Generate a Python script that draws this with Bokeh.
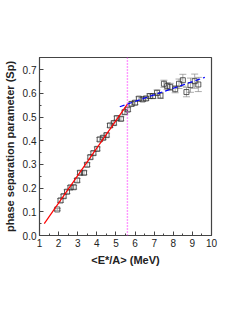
from bokeh.plotting import figure
from bokeh.models import Range1d, Whisker, ColumnDataSource, TeeHead, FixedTicker, Span, CustomJSTickFormatter
from bokeh.embed import file_html
from bokeh.resources import INLINE

energy = [1.93, 2.10, 2.26, 2.44, 2.62, 2.79, 2.97, 3.12, 3.33, 3.49, 3.66, 3.82, 4.02,
          4.15, 4.33, 4.51, 4.69, 4.89, 5.05, 5.26, 5.46, 5.62, 5.82, 6.00, 6.20, 6.40,
          6.57, 6.77, 6.94, 7.15, 7.33, 7.51, 7.68, 7.84, 8.10, 8.30, 8.50, 8.69, 8.90,
          9.12, 9.31]
sp = [0.110, 0.148, 0.166, 0.185, 0.203, 0.204, 0.233, 0.265, 0.265, 0.299, 0.331, 0.348,
      0.366, 0.406, 0.413, 0.424, 0.465, 0.475, 0.496, 0.493, 0.521, 0.532, 0.556, 0.561,
      0.578, 0.575, 0.579, 0.589, 0.589, 0.603, 0.591, 0.641, 0.631, 0.628, 0.618, 0.641,
      0.656, 0.606, 0.635, 0.652, 0.638]
sp_err = [0.004, 0.008, 0.008, 0.008, 0.008, 0.008, 0.008, 0.008, 0.008, 0.008, 0.008,
          0.008, 0.008, 0.008, 0.008, 0.008, 0.008, 0.008, 0.008, 0.008, 0.008, 0.008,
          0.008, 0.008, 0.008, 0.008, 0.008, 0.010, 0.010, 0.012, 0.012, 0.015, 0.015,
          0.015, 0.015, 0.020, 0.025, 0.020, 0.030, 0.030, 0.030]

red_fit_x = [1.25, 5.6]
red_fit_y = [0.050, 0.555]
blue_fit_x = [5.2, 9.65]
blue_fit_y = [0.544, 0.668]
transition_e = 5.6

x_ticks = [1, 2, 3, 4, 5, 6, 7, 8, 9, 10]
y_ticks = [0.0, 0.1, 0.2, 0.3, 0.4, 0.5, 0.6, 0.7]

p = figure(width=227, height=290, output_backend="svg", toolbar_location=None,
           x_range=Range1d(1, 10), y_range=Range1d(0, 0.752),
           min_border_left=28, min_border_right=16, min_border_top=57, min_border_bottom=55)
p.grid.visible = False
p.outline_line_color = "#444444"
p.outline_line_width = 1.2
p.background_fill_color = "white"
p.border_fill_color = "white"

for ax in (p.xaxis[0], p.yaxis[0]):
    ax.major_tick_in = 4
    ax.major_tick_out = 0
    ax.minor_tick_in = 2
    ax.minor_tick_out = 0
    ax.axis_line_color = "#444444"
    ax.major_tick_line_color = "#444444"
    ax.minor_tick_line_color = "#444444"
    ax.major_label_text_font = "Liberation Sans"
    ax.major_label_text_font_size = "10px"
    ax.major_label_text_color = "#222222"
    ax.axis_label_text_font = "Liberation Sans"
    ax.axis_label_text_font_size = "11px"
    ax.axis_label_text_font_style = "bold"
    ax.axis_label_text_color = "#222222"

p.xaxis.ticker = FixedTicker(ticks=x_ticks, minor_ticks=[v + 0.5 for v in x_ticks[:-1]])
p.yaxis.ticker = FixedTicker(ticks=y_ticks, minor_ticks=[v + 0.05 for v in y_ticks])
p.yaxis.formatter = CustomJSTickFormatter(code="return tick.toFixed(1);")
p.xaxis.axis_label = "<E*/A> (MeV)"
p.yaxis.axis_label = "phase separation parameter (Sp)"
p.xaxis.major_label_standoff = 3
p.yaxis.major_label_standoff = 3
p.xaxis.axis_label_standoff = 4
p.yaxis.axis_label_standoff = 4

src = ColumnDataSource(data=dict(
    x=energy, y=sp,
    lo=[a - b for a, b in zip(sp, sp_err)],
    hi=[a + b for a, b in zip(sp, sp_err)]))

p.add_layout(Span(location=transition_e, dimension="height", line_color="#ff33ff",
                  line_dash="1 2", line_width=1.4, level="overlay"))

w = Whisker(source=src, base="x", lower="lo", upper="hi",
            line_color="#888888", line_width=0.7,
            upper_head=TeeHead(size=7, line_color="#888888", line_width=0.7),
            lower_head=TeeHead(size=7, line_color="#888888", line_width=0.7))
p.add_layout(w)

p.scatter("x", "y", source=src, marker="square", size=5, fill_color=None,
          line_color="#333333", line_width=0.8)

p.line(red_fit_x, red_fit_y, line_color="#ff0000", line_width=1.2)
p.line(blue_fit_x, blue_fit_y, line_color="#0000ff", line_width=1.2, line_dash="5 3")

open("out.html", "w").write(file_html(p, INLINE))
